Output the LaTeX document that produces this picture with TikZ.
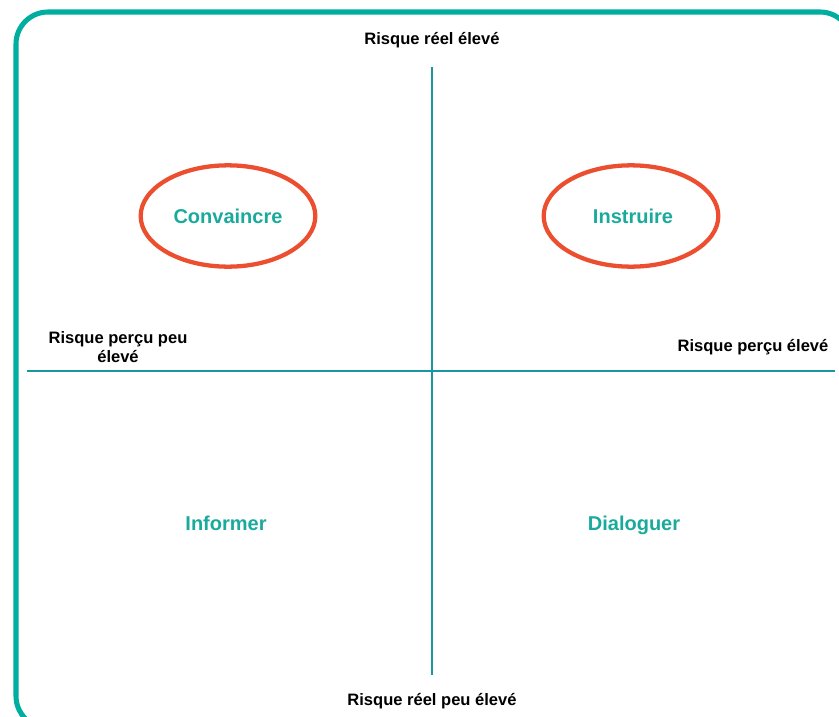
\documentclass[tikz,border=0pt]{standalone}
\usepackage{fontspec}
\setmainfont{Liberation Sans}
\usetikzlibrary{shapes.geometric}
\definecolor{cadre}{RGB}{0,174,160}
\definecolor{axe}{RGB}{24,150,162}
\definecolor{quadrant}{RGB}{26,170,155}
\definecolor{rouge}{RGB}{236,78,48}
\tikzstyle{axis} = [axe, line width=2.2pt]
\tikzstyle{borne} = [font=\bfseries\fontsize{12.4}{14}\selectfont, text=black, align=center, inner sep=0pt]
\tikzstyle{quad} = [font=\bfseries\fontsize{15}{18}\selectfont, text=quadrant, inner sep=0pt, text depth=0pt]
\tikzstyle{cercle} = [ellipse, draw=rouge, line width=3.2pt, minimum width=131pt, minimum height=76pt]

\begin{document}
\begin{tikzpicture}[x=0.75pt,y=-0.75pt]
      \useasboundingbox (0,0) rectangle (839,717);
      \clip (0,0) rectangle (839,717);
      \draw[cadre, line width=3.8pt, rounded corners=24pt] (16,12) rectangle (852,728);
      \coordinate (haut) at (432,67);
      \coordinate (bas) at (432,675);
      \coordinate (gauche) at (27,371);
      \coordinate (droite) at (835,371);
      \draw[axis] (haut)--(bas);
      \draw[axis] (gauche)--(droite);
      \node[borne] (reelhaut) at (432,40) {Risque réel élevé};
      \node[borne] (reelbas) at (432,701) {Risque réel peu élevé};
      \node[borne] (percubas) at (118,347) {Risque perçu peu\\élevé};
      \node[borne] (percuhaut) at (753,347) {Risque perçu élevé};
      \node[quad] (convaincre) at (228,216) {Convaincre};
      \node[quad] (instruire) at (633,216) {Instruire};
      \node[quad] (informer) at (226,523) {Informer};
      \node[quad] (dialoguer) at (634,523) {Dialoguer};
      \node[cercle] (c1) at (228,216) {};
      \node[cercle] (c2) at (631,216) {};
\end{tikzpicture}
\end{document}
